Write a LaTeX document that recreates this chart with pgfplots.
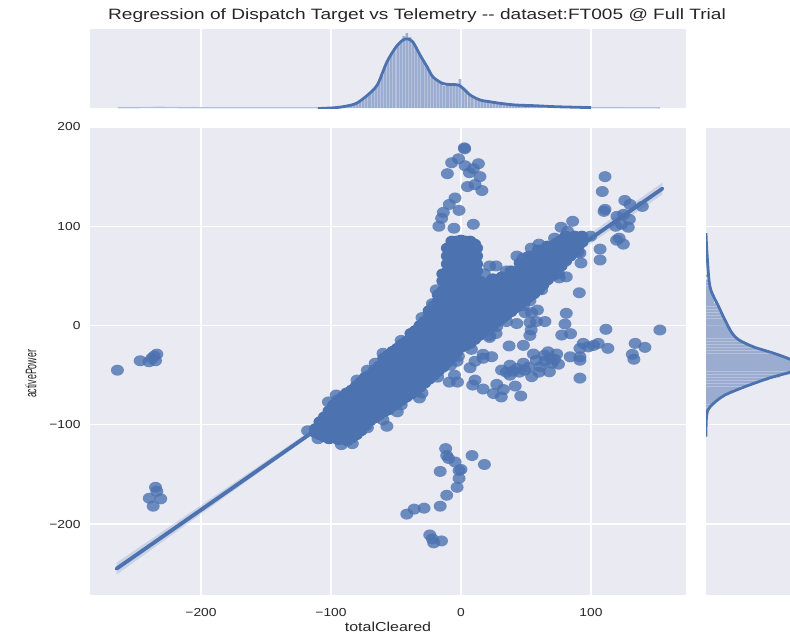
\documentclass[border=0pt]{standalone}
\usepackage{fontspec}
\setmainfont{Liberation Sans}
\usepackage{graphicx}
\usepackage{pgfplots}
\pgfplotsset{compat=1.18}
\definecolor{sb}{HTML}{4C72B0}
\definecolor{panel}{HTML}{EAEAF2}
\definecolor{ink}{HTML}{262626}
\newcommand{\tl}[1]{\scalebox{1.19}[1]{#1}}
\pgfplotsset{
  panel/.style={
    scale only axis,
    axis background/.style={fill=panel},
    axis line style={draw=none},
    major tick length=0pt,
    grid=major,
    grid style={white,line width=1.4pt},
    tick label style={font=\fontsize{11.6}{12}\selectfont,text=ink},
    clip=true,
  },
}
\begin{document}
\begin{tikzpicture}[x=1pt,y=1pt]
\useasboundingbox (0,0) rectangle (790,-633);

% main joint plot
\begin{axis}[panel,
    at={(90pt,-595pt)}, anchor=south west,
    width=596pt, height=468pt,
    xmin=-285.4, xmax=173.1, ymin=-271.5, ymax=200,
    xtick={-200,-100,0,100}, ytick={-200,-100,0,100,200},
    xticklabels={\tl{−200},\tl{−100},\tl{0},\tl{100}},
    yticklabels={\tl{−200},\tl{−100},\tl{0},\tl{100},\tl{200}},
    xticklabel style={yshift=-10pt},
    yticklabel style={xshift=-6pt},
    xlabel={\scalebox{1.23}[1]{\fontsize{13}{14}\selectfont totalCleared}},
    xlabel style={text=ink,yshift=2pt},
    ylabel={\scalebox{0.8}[1.4]{\fontsize{11}{12}\selectfont activePower}},
    ylabel style={text=ink,yshift=6pt,xshift=-13pt},
]
% outliers
\addplot[only marks, mark=*, mark size=5.5pt,
  mark options={xscale=1.18,draw=sb,draw opacity=0,fill=sb,fill opacity=0.8}] coordinates {
(2.6,179)(2.8,178)(-1.9,168)(-7.2,164)(-10.5,153)(3.1,161)(6.5,154)(13.4,163)(9.5,158)(14.6,150)
(5,140)(10.8,142)(16.1,136)(-4.6,128.5)(-9,122)(-13.6,114)(-1.5,116)(-14.9,108)(-17,100)(-5.4,98)(9.5,102)
(85.9,105)(77,99)(110.8,150)(108.7,135)(126,126)(110.8,117)(110,115)(130,122)(139.5,120)(120,110)
(125,112)(129.5,107)(119,100)(128.7,99)(123.5,102)(119.7,86)(121.7,88)(124.9,82)(107,77)(107,66)
(91.5,73)(92.3,63)(99.7,90)(91,33)(81,49)(75.6,48)(81,12.3)(80,1.5)(77.5,-9.6)(84.3,-8.2)(111.5,-3.8)
(153,-4.5)(134,-18)(141.5,-22)(131.8,-29)(133,-34)(113,-23)(105.6,-18)(98,-21.5)(94,-18)(91.5,-23)
(102,-20)(91.5,-35)(84,-31.5)(91.5,-31.5)(91.5,-53)
(53,25)(58.8,15.6)(49.3,13)(54.3,13)(64.6,4)(58,4)(53,3)(42.9,2)(54,-4.5)(53,-10)(27.5,-1)(27,-8)(22,-10)
(37,-20.6)(48,-20)(55.7,-28.7)(67,-26.5)(73.6,-28.7)(68.5,-33)(64.6,-36)(75,-39)(61,-41.5)(68,-46.6)
(54.4,-51.5)(48,-38)(43,-43.3)(37.7,-50)(49,-45)(31.2,-44.9)(37.7,-40)(23.6,-31.4)(17,-29)(10.8,-36)
(7,-42.5)(17,-33)(-2,-31)(-3,-36)(-5,-50)(-9,-57)(10.8,-55)(9,-60)(17,-64)(27.5,-59.3)(32.6,-64.5)
(25,-68.5)(31,-72)(41.7,-61)(46,-71)
(-264.3,-45)(-246.8,-35.5)(-240,-36.5)(-235,-35.5)(-237.8,-33)(-234,-28.8)(-236,-30.8)
(-235,-163)(-234,-167)(-239.8,-174)(-231,-174.6)(-236.8,-182)
(-11.8,-124)(-11,-131)(-9.5,-134)(-4.5,-137.5)(-16,-147)(-1.5,-146)(-1.5,-154)(-3,-163)(-11,-171)
(-16,-182)(-28.4,-184)(-36,-185)(-41.7,-190)(-24,-211)(-22,-215)(-15,-217)(-21,-219)
(8.5,-131)(18,-140)(0,-145)
(-110,-114)(-118,-106)(-83.6,-119)(-57,-101.5)(-49,-87)(-32,-73)(-2.7,-57)
(-21,20)(-25,5)(22,60)(27,60)(43,70)(54,78)(-35,-6)(-102,-77)(-88,-68)(-66,-38)
(58,-35)(64,-30)(70,-38)(45,-47)(52,-42)(40,-46)(72,-34)(60,-47)(35,-47)
(-96,-70)(-80,-55)(-72,-45)(-60,-28)(-46,-15)(-30,8)(-22,22)(-19,36)(18,52)(35,55)(48,68)(60,82)(72,88)(82,95)
(-92,-120)(-72,-103)(-60,-95)(-46,-80)(-30,-68)(-18,-52)(-8,-40)(8,-24)(22,-12)(35,4)(48,20)(62,36)(75,52)(90,74)
};
% dense cloud along the diagonal
\addplot[only marks, mark=*, mark size=5.5pt,
  mark options={xscale=1.18,draw=sb,draw opacity=0,fill=sb,fill opacity=1}] coordinates {
(-112,-108)(-112,-104)
(-105,-112)(-105,-105)(-105,-98)(-105,-92)
(-98,-112)(-98,-106)(-98,-99)(-98,-92)(-98,-85)(-98,-80)
(-91,-114)(-91,-107)(-91,-100)(-91,-93)(-91,-86)(-91,-79)(-91,-72)
(-84,-113)(-84,-106)(-84,-99)(-84,-92)(-84,-85)(-84,-78)(-84,-71)(-84,-65)
(-77,-106)(-77,-99)(-77,-92)(-77,-85)(-77,-78)(-77,-71)(-77,-64)(-77,-57)
(-70,-96)(-70,-89)(-70,-82)(-70,-75)(-70,-68)(-70,-61)(-70,-54)(-70,-50)
(-63,-90)(-63,-83)(-63,-76)(-63,-69)(-63,-62)(-63,-55)(-63,-48)(-63,-41)
(-56,-85)(-56,-78)(-56,-71)(-56,-64)(-56,-57)(-56,-50)(-56,-43)(-56,-36)(-56,-30)
(-49,-78)(-49,-71)(-49,-64)(-49,-57)(-49,-50)(-49,-43)(-49,-36)(-49,-29)(-49,-23)
(-42,-72)(-42,-65)(-42,-58)(-42,-51)(-42,-44)(-42,-37)(-42,-30)(-42,-23)(-42,-16)
(-35,-66)(-35,-59)(-35,-52)(-35,-45)(-35,-38)(-35,-31)(-35,-24)(-35,-17)(-35,-10)(-35,-5)
(-28,-58)(-28,-51)(-28,-44)(-28,-37)(-28,-30)(-28,-23)(-28,-16)(-28,-9)(-28,-2)(-28,4)
(-21,-50)(-21,-43)(-21,-36)(-21,-29)(-21,-22)(-21,-15)(-21,-8)(-21,-1)(-21,6)(-21,13)
(-14,-42)(-14,-35)(-14,-28)(-14,-21)(-14,-14)(-14,-7)(-14,0)(-14,7)(-14,14)(-14,21)(-14,28)(-14,35)(-14,45)(-14,52)
(-7,-32)(-7,-25)(-7,-18)(-7,-11)(-7,-4)(-7,3)(-7,10)(-7,17)(-7,24)(-7,31)(-7,38)(-7,45)(-7,52)(-7,59)(-7,66)(-7,73)(-7,80)(-7,85)
(0,-22)(0,-15)(0,-8)(0,-1)(0,6)(0,13)(0,20)(0,27)(0,34)(0,41)(0,48)(0,55)(0,62)(0,69)(0,76)(0,83)(0,86)
(7,-18)(7,-11)(7,-4)(7,3)(7,10)(7,17)(7,24)(7,31)(7,38)(7,45)(7,52)(7,59)(7,66)(7,73)(7,80)(7,85)
(12,55)(12,62)(12,70)(12,78)
(14,-10)(14,-3)(14,4)(14,11)(14,18)(14,25)(14,32)(14,39)(14,45)
(21,-3)(21,4)(21,11)(21,18)(21,25)(21,32)(21,40)
(28,4)(28,11)(28,18)(28,25)(28,32)(28,39)(28,45)
(35,11)(35,18)(35,25)(35,32)(35,39)(35,46)
(42,18)(42,25)(42,32)(42,39)(42,46)(42,53)
(49,25)(49,32)(49,39)(49,46)(49,53)(49,60)
(56,32)(56,39)(56,46)(56,53)(56,60)(56,67)
(63,41)(63,48)(63,55)(63,62)(63,69)(63,74)
(70,50)(70,57)(70,64)(70,71)(70,78)
(77,60)(77,67)(77,74)(77,81)(77,86)
(84,70)(84,77)(84,84)(84,88)
(90,80)(90,85)(90,88)
(-108.5,-110)(-108.5,-103)(-108.5,-97)
(-101.5,-114)(-101.5,-107)(-101.5,-100)(-101.5,-93)(-101.5,-86)
(-94.5,-115)(-94.5,-108)(-94.5,-101)(-94.5,-94)(-94.5,-87)(-94.5,-80)(-94.5,-75)
(-87.5,-116)(-87.5,-109)(-87.5,-102)(-87.5,-95)(-87.5,-88)(-87.5,-81)(-87.5,-74)(-87.5,-68)
(-80.5,-110)(-80.5,-103)(-80.5,-96)(-80.5,-89)(-80.5,-82)(-80.5,-75)(-80.5,-68)(-80.5,-61)
(-73.5,-101)(-73.5,-94)(-73.5,-87)(-73.5,-80)(-73.5,-73)(-73.5,-66)(-73.5,-59)(-73.5,-52)
(-66.5,-93)(-66.5,-86)(-66.5,-79)(-66.5,-72)(-66.5,-65)(-66.5,-58)(-66.5,-51)(-66.5,-45)
(-59.5,-87)(-59.5,-80)(-59.5,-73)(-59.5,-66)(-59.5,-59)(-59.5,-52)(-59.5,-45)(-59.5,-38)(-59.5,-33)
(-52.5,-81)(-52.5,-74)(-52.5,-67)(-52.5,-60)(-52.5,-53)(-52.5,-46)(-52.5,-39)(-52.5,-32)(-52.5,-26)
(-45.5,-75)(-45.5,-68)(-45.5,-61)(-45.5,-54)(-45.5,-47)(-45.5,-40)(-45.5,-33)(-45.5,-26)(-45.5,-19)
(-38.5,-69)(-38.5,-62)(-38.5,-55)(-38.5,-48)(-38.5,-41)(-38.5,-34)(-38.5,-27)(-38.5,-20)(-38.5,-13)(-38.5,-8)
(-31.5,-62)(-31.5,-55)(-31.5,-48)(-31.5,-41)(-31.5,-34)(-31.5,-27)(-31.5,-20)(-31.5,-13)(-31.5,-6)(-31.5,0)
(-24.5,-54)(-24.5,-47)(-24.5,-40)(-24.5,-33)(-24.5,-26)(-24.5,-19)(-24.5,-12)(-24.5,-5)(-24.5,2)(-24.5,9)(-24.5,15)
(-17.5,-46)(-17.5,-39)(-17.5,-32)(-17.5,-25)(-17.5,-18)(-17.5,-11)(-17.5,-4)(-17.5,3)(-17.5,10)(-17.5,17)(-17.5,24)(-17.5,31)
(-10.5,-37)(-10.5,-30)(-10.5,-23)(-10.5,-16)(-10.5,-9)(-10.5,-2)(-10.5,5)(-10.5,12)(-10.5,19)(-10.5,26)(-10.5,33)(-10.5,40)(-10.5,47)(-10.5,54)(-10.5,62)(-10.5,70)(-10.5,78)
(-3.5,-27)(-3.5,-20)(-3.5,-13)(-3.5,-6)(-3.5,1)(-3.5,8)(-3.5,15)(-3.5,22)(-3.5,29)(-3.5,36)(-3.5,43)(-3.5,50)(-3.5,57)(-3.5,64)(-3.5,71)(-3.5,78)(-3.5,85)
(3.5,-20)(3.5,-13)(3.5,-6)(3.5,1)(3.5,8)(3.5,15)(3.5,22)(3.5,29)(3.5,36)(3.5,43)(3.5,50)(3.5,57)(3.5,64)(3.5,71)(3.5,78)(3.5,85)
(10.5,-14)(10.5,-7)(10.5,0)(10.5,7)(10.5,14)(10.5,21)(10.5,28)(10.5,35)(10.5,42)(10.5,49)(10.5,56)(10.5,66)(10.5,74)(10.5,82)
(17.5,-6)(17.5,1)(17.5,8)(17.5,15)(17.5,22)(17.5,29)(17.5,36)(17.5,43)
(24.5,0)(24.5,7)(24.5,14)(24.5,21)(24.5,28)(24.5,35)(24.5,42)(24.5,47)
(31.5,7)(31.5,14)(31.5,21)(31.5,28)(31.5,35)(31.5,42)(31.5,49)
(38.5,14)(38.5,21)(38.5,28)(38.5,35)(38.5,42)(38.5,49)(38.5,55)
(45.5,22)(45.5,29)(45.5,36)(45.5,43)(45.5,50)(45.5,57)(45.5,63)
(52.5,29)(52.5,36)(52.5,43)(52.5,50)(52.5,57)(52.5,64)(52.5,70)
(59.5,36)(59.5,43)(59.5,50)(59.5,57)(59.5,64)(59.5,71)(59.5,76)
(66.5,46)(66.5,53)(66.5,60)(66.5,67)(66.5,74)(66.5,80)
(73.5,55)(73.5,62)(73.5,69)(73.5,76)(73.5,83)
(80.5,65)(80.5,72)(80.5,79)(80.5,86)(80.5,90)
(87.5,76)(87.5,83)(87.5,90)
(93,84)(93,90)
};
% regression line with its band
\addplot[fill=sb, draw=none, fill opacity=0.2] coordinates {
(-265,-251)(-100,-96)(155,132)(155,144)(-100,-92)(-265,-239)} --cycle;
\addplot[sb, line width=3.8pt, line cap=round] coordinates {(-265,-245)(155,138)};
\addplot[sb!72!white, line width=0.9pt] coordinates {(-118,-111)(85,74)};
\end{axis}

% top marginal
\begin{axis}[panel,
    at={(90pt,-108pt)}, anchor=south west,
    width=596pt, height=79pt,
    xmin=-285.4, xmax=173.1, ymin=0, ymax=79,
    xtick={-200,-100,0,100}, ytick=\empty,
    xticklabels={},
]
\addplot[ybar, bar width=2.6pt, bar shift=0pt, fill=sb, fill opacity=0.5, draw=none] coordinates {
(-92,1)(-89.6,1.5)(-87.2,2)(-84.8,3)(-82.4,3.5)(-80,5)(-77.6,6)(-75.2,8.5)(-72.8,11)(-70.4,14)
(-68,17)(-65.6,22)(-63.2,26)(-60.8,33)(-58.4,42)(-56,49)(-53.6,54)(-51.2,60)(-48.8,64)(-46.4,67)
(-44,72)(-41.6,75)(-39.2,71)(-36.8,66)(-34.4,60)(-32,54)(-29.6,49)(-27.2,44)(-24.8,38)(-22.4,33)
(-20,29)(-17.6,26)(-15.2,25)(-12.8,22)(-10.4,23)(-8,25)(-5.6,23)(-3.2,24)(-0.8,29)(1.6,21)
(4,17)(6.4,14)(8.8,12)(11.2,10)(13.6,9)(16,8)(18.4,7)(20.8,7)(23.2,6)(25.6,5.5)
(28,5)(30.4,4.5)(32.8,4)(35.2,3.5)(37.6,3)(40,3)(42.4,2.5)(44.8,2.5)(47.2,2)(49.6,2)(52,2)(54.4,2)(56.8,1.5)(59.2,1.5)(61.6,1)
};
\addplot[sb!35!panel, line width=1.4pt] coordinates {(-264,0.3)(-232,0.6)(-202,0.3)(-110,0.3)};
\addplot[sb!35!panel, line width=1.4pt] coordinates {(100,0.4)(153,0.2)};
\addplot[sb, line width=2.8pt, smooth, tension=0.5] coordinates {
(-110,-0.5)(-98,0.2)(-89,1.7)(-80,5)(-70,15)(-64,24)(-57,46)(-50,61)(-44.6,68)
(-41,69)(-37,66)(-31.5,53)(-26,41)(-21.5,31)(-14,24.5)(-8,23.5)(-2,23)(3,18)(7,13)(14.6,8)(21,6.5)
(30,4.7)(42,3)(57,2.3)(72.6,1.3)(100,0.4)};
\end{axis}

% right marginal
\begin{axis}[panel,
    at={(706pt,-595pt)}, anchor=south west,
    width=84pt, height=468pt,
    xmin=0, xmax=84, ymin=-271.5, ymax=200,
    ytick={-200,-100,0,100,200}, xtick=\empty,
    yticklabels={},
]
\addplot[xbar, bar width=2.6pt, bar shift=0pt, fill=sb, fill opacity=0.5, draw=none] coordinates {
(1,-90)(1.5,-87)(2.5,-84)(4.5,-81)(7.5,-78)(11,-75)(15,-72)(21,-69)(27,-66)(35,-63)(43,-60)(52,-57)
(62,-54)(74,-51)(84,-48)(94,-45)(98,-42)(96,-39)(90,-36)(82,-33)(74,-30)(64,-27)(56,-24)(46,-21)
(39,-18)(33,-15)(30,-12)(28,-9)(25,-6)(23,-3)(21,0)(19,3)(18,6)(16,9)(15,12)(13,15)(12,18)(10,21)
(8,24)(7,27)(6,30)(5,33)(4,36)(3.5,39)(3,42)(2,45)(1.5,50)
};
\addplot[sb, line width=2.8pt, smooth, tension=0.5] coordinates {
(0,-112)(0.3,-95)(2,-85)(8,-78)(19,-70)(38,-62)(63,-53)(84,-47)(97,-41)(84,-34)(68,-28)(48,-21.7)
(33,-14.6)(26,-7.6)(19,5.5)(12.7,19)(4,39)(1,73)(0,93)};
\end{axis}

\node[text=ink, anchor=center] at (417,-16)
  {\scalebox{1.274}[1]{\fontsize{15}{16}\selectfont Regression of Dispatch Target vs Telemetry -{}- dataset:FT005 @ Full Trial}};
\end{tikzpicture}
\end{document}
